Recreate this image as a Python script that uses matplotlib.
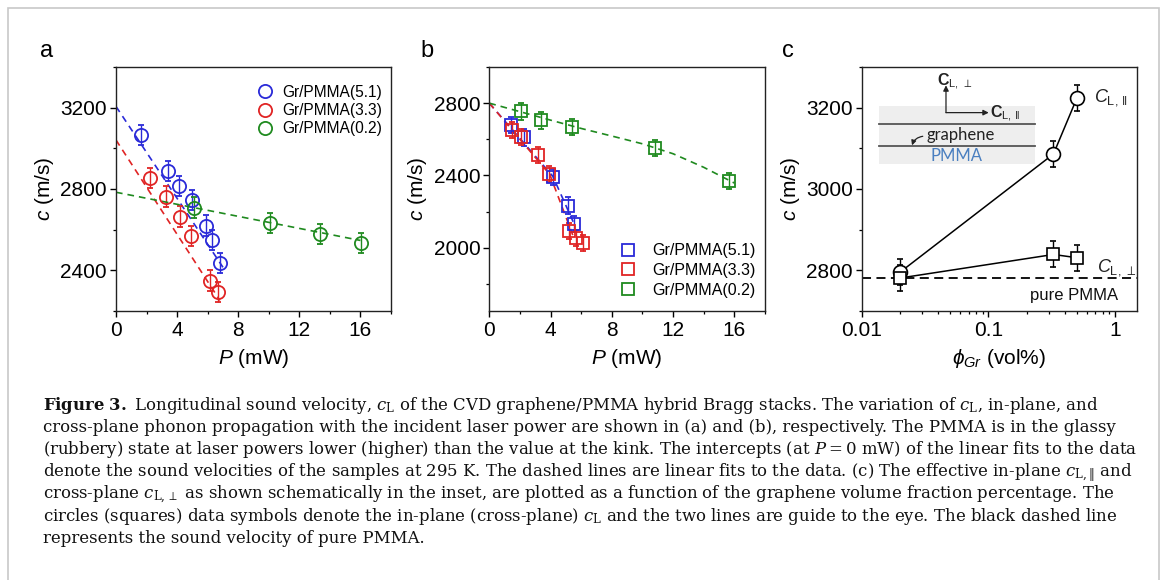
import matplotlib
matplotlib.use('Agg')
import matplotlib.pyplot as plt
from matplotlib.lines import Line2D
from matplotlib.patches import Rectangle
import matplotlib.ticker as mt

# ---------------- data ----------------
# panel a (in-plane, circles)
a_blue_x = [1.66, 3.41, 4.14, 4.99, 5.86, 6.28, 6.82]
a_blue_y = [3065, 2890, 2814, 2745, 2620, 2549, 2435]
a_red_x = [2.21, 3.28, 4.17, 4.88, 6.15, 6.67]
a_red_y = [2854, 2763, 2664, 2569, 2350, 2292]
a_green_x = [5.12, 10.07, 13.38, 16.05]
a_green_y = [2709, 2632, 2580, 2536]
a_err = 50
a_blue_fit_x, a_blue_fit_y = [0, 7.0], [3206, 2415]
a_red_fit_x, a_red_fit_y = [0, 6.8], [3041, 2252]
a_green_fit_x, a_green_fit_y = [0, 16.0], [2784, 2547]

# panel b (cross-plane, squares)
b_blue_x = [1.42, 2.29, 4.15, 5.12, 5.54]
b_blue_y = [2680, 2610, 2393, 2233, 2130]
b_red_x = [1.45, 2.06, 3.20, 3.93, 5.23, 5.67, 6.10]
b_red_y = [2651, 2614, 2512, 2407, 2091, 2052, 2025]
b_green_x = [2.07, 3.39, 5.43, 10.80, 15.65]
b_green_y = [2754, 2704, 2670, 2551, 2368]
b_err = 45
b_blue_fit_x, b_blue_fit_y = [0, 4.15, 5.6], [2800, 2395, 2120]
b_red_fit_x, b_red_fit_y = [0, 3.95, 5.45], [2800, 2405, 2070]
b_green_fit_x = [0, 2, 4, 6, 8, 10, 12, 14, 16]
b_green_fit_y = [2800, 2753, 2706, 2660, 2618, 2575, 2520, 2445, 2358]

labels = ['Gr/PMMA(5.1)', 'Gr/PMMA(3.3)', 'Gr/PMMA(0.2)']
colors = ['#2a2ad8', '#e02424', '#1f8a1f']

# panel c
c_phi = [0.02, 0.326, 0.5]
c_par = [2795, 3086, 3224]
c_perp = [2781, 2839, 2831]
c_err = 32
c_pure = 2780

caption_lines = [
    r"$\mathbf{Figure\ 3.}$ Longitudinal sound velocity, $c_{\rm L}$ of the CVD graphene/PMMA hybrid Bragg stacks. The variation of $c_{\rm L}$, in-plane, and",
    r"cross-plane phonon propagation with the incident laser power are shown in (a) and (b), respectively. The PMMA is in the glassy",
    r"(rubbery) state at laser powers lower (higher) than the value at the kink. The intercepts (at $P = 0$ mW) of the linear fits to the data",
    r"denote the sound velocities of the samples at 295 K. The dashed lines are linear fits to the data. (c) The effective in-plane $c_{\rm L,\|}$ and",
    r"cross-plane $c_{\rm L,\perp}$ as shown schematically in the inset, are plotted as a function of the graphene volume fraction percentage. The",
    r"circles (squares) data symbols denote the in-plane (cross-plane) $c_{\rm L}$ and the two lines are guide to the eye. The black dashed line",
    r"represents the sound velocity of pure PMMA.",
]

# ---------------- style ----------------
plt.rcParams.update({
    'font.family': ['Liberation Sans', 'DejaVu Sans'],
    'mathtext.fontset': 'custom',
    'mathtext.rm': 'Liberation Sans',
    'mathtext.it': 'Liberation Sans:italic',
    'mathtext.bf': 'Liberation Sans:bold',
    'axes.linewidth': 1.0,
    'axes.edgecolor': '#222222',
    'xtick.direction': 'out', 'ytick.direction': 'out',
    'xtick.major.size': 4, 'ytick.major.size': 4,
    'xtick.minor.size': 2.5, 'ytick.minor.size': 2.5,
    'xtick.major.width': 1.0, 'ytick.major.width': 1.0,
    'xtick.minor.width': 0.9, 'ytick.minor.width': 0.9,
    'xtick.labelsize': 15, 'ytick.labelsize': 15,
    'xtick.major.pad': 3, 'ytick.major.pad': 2.5,
})

W, H = 1168, 580
fig = plt.figure(figsize=(W / 100, H / 100), dpi=100)


def add_ax(left, right, top=67, bottom=311):
    return fig.add_axes([left / W, 1 - bottom / H, (right - left) / W, (bottom - top) / H])


dash = (0, (4, 3))

# ---------------- panel a ----------------
axA = add_ax(116, 391)
for xs, ys, fx, fy, c in [(a_blue_x, a_blue_y, a_blue_fit_x, a_blue_fit_y, colors[0]),
                           (a_red_x, a_red_y, a_red_fit_x, a_red_fit_y, colors[1]),
                           (a_green_x, a_green_y, a_green_fit_x, a_green_fit_y, colors[2])]:
    axA.plot(fx, fy, linestyle=dash, color=c, lw=1.2)
    axA.errorbar(xs, ys, yerr=a_err, fmt='o', mfc='none', mec=c, ecolor=c, ms=9.5, mew=1.3,
                 capsize=2.5, elinewidth=1.0, capthick=1.0)
axA.set_xlim(0, 18)
axA.set_ylim(2200, 3400)
axA.xaxis.set_major_locator(mt.MultipleLocator(4))
axA.xaxis.set_minor_locator(mt.MultipleLocator(2))
axA.yaxis.set_major_locator(mt.MultipleLocator(400))
axA.yaxis.set_minor_locator(mt.MultipleLocator(200))
axA.set_xlabel('$P$ (mW)', fontsize=15, labelpad=5)
axA.set_ylabel('$c$ (m/s)', fontsize=15, labelpad=3)
hA = [Line2D([], [], marker='o', ls='none', mfc='none', mec=c, ms=9.5, mew=1.3) for c in colors]
axA.legend(hA, labels, loc='upper right', bbox_to_anchor=(1.0, 0.965), frameon=False, fontsize=11.2,
           handletextpad=0.5, labelspacing=0.2, borderaxespad=0.2, handlelength=1.2)

# ---------------- panel b ----------------
axB = add_ax(489.3, 765)
for xs, ys, fx, fy, c in [(b_blue_x, b_blue_y, b_blue_fit_x, b_blue_fit_y, colors[0]),
                           (b_red_x, b_red_y, b_red_fit_x, b_red_fit_y, colors[1]),
                           (b_green_x, b_green_y, b_green_fit_x, b_green_fit_y, colors[2])]:
    axB.plot(fx, fy, linestyle=dash, color=c, lw=1.2)
for xs, ys, c in [(b_blue_x, b_blue_y, colors[0]), (b_red_x, b_red_y, colors[1]),
                  (b_green_x, b_green_y, colors[2])]:
    axB.errorbar(xs, ys, yerr=b_err, fmt='s', mfc='none', mec=c, ecolor=c, ms=9, mew=1.3,
                 capsize=2.5, elinewidth=1.0, capthick=1.0)
axB.set_xlim(0, 18)
axB.set_ylim(1650, 3000)
axB.xaxis.set_major_locator(mt.MultipleLocator(4))
axB.xaxis.set_minor_locator(mt.MultipleLocator(2))
axB.yaxis.set_major_locator(mt.MultipleLocator(400))
axB.yaxis.set_minor_locator(mt.MultipleLocator(200))
axB.set_xlabel('$P$ (mW)', fontsize=15, labelpad=5)
axB.set_ylabel('$c$ (m/s)', fontsize=15, labelpad=3)
hB = [Line2D([], [], marker='s', ls='none', mfc='none', mec=c, ms=9, mew=1.3) for c in colors]
axB.legend(hB, labels, loc='lower right', bbox_to_anchor=(1.0, 0.015), frameon=False, fontsize=11.5,
           handletextpad=0.9, labelspacing=0.3, borderaxespad=0.2, handlelength=1.2)

# ---------------- panel c ----------------
axC = add_ax(861.7, 1136.7)
axC.set_xscale('log')
axC.axhline(c_pure, color='black', lw=1.3, linestyle=(0, (5, 3)))
axC.errorbar(c_phi, c_par, yerr=c_err, fmt='-o', color='black', mfc='white', mec='black', ms=10,
             mew=1.2, lw=1.1, capsize=2.5, elinewidth=1.0, capthick=1.0)
axC.errorbar(c_phi, c_perp, yerr=c_err, fmt='-s', color='black', mfc='white', mec='black', ms=9,
             mew=1.2, lw=1.1, capsize=2.5, elinewidth=1.0, capthick=1.0)
axC.set_xlim(0.01, 1.48)
axC.set_ylim(2700, 3300)
axC.xaxis.set_major_locator(mt.FixedLocator([0.01, 0.1, 1]))
axC.xaxis.set_major_formatter(mt.FixedFormatter(['0.01', '0.1', '1']))
axC.xaxis.set_minor_locator(mt.LogLocator(base=10, subs=range(2, 10)))
axC.xaxis.set_minor_formatter(mt.NullFormatter())
axC.yaxis.set_major_locator(mt.MultipleLocator(200))
axC.yaxis.set_minor_locator(mt.MultipleLocator(100))
axC.set_xlabel(r'$\phi_{Gr}$ (vol%)', fontsize=15, labelpad=5)
axC.set_ylabel('$c$ (m/s)', fontsize=15, labelpad=3)
axC.text(0.68, c_par[-1], r'$C_{\rm L,\,\|}$', fontsize=13, va='center', ha='left', color='#222222')
axC.text(0.72, c_perp[-1] - 25, r'$C_{\rm L,\,\perp}$', fontsize=13, va='center', ha='left', color='#222222')
axC.text(0.47, 2739, 'pure PMMA', fontsize=12, ha='center', va='center', color='#111111')

# inset schematic (axes fraction)
T = axC.transAxes
axC.add_patch(Rectangle((0.062, 0.602), 0.568, 0.238, transform=T, facecolor='#eeeeee',
                        edgecolor='none', zorder=1))
axC.plot([0.062, 0.630], [0.765, 0.765], transform=T, color='#555555', lw=1.3, zorder=2)
axC.plot([0.062, 0.630], [0.676, 0.676], transform=T, color='#555555', lw=1.3, zorder=2)
axC.text(0.36, 0.722, 'graphene', transform=T, fontsize=12, family='Lato', ha='center', va='center',
         color='#222222', zorder=3)
axC.text(0.345, 0.635, 'PMMA', transform=T, fontsize=12, family='Lato', ha='center', va='center',
         color='#4a7fc0', zorder=3)
axC.annotate('', xy=(0.183, 0.679), xytext=(0.222, 0.716), xycoords=T, textcoords=T,
             arrowprops=dict(arrowstyle='-|>', color='#222222', lw=0.9, mutation_scale=7,
                             connectionstyle='arc3,rad=0.3', shrinkA=0, shrinkB=0), zorder=3)
axC.annotate('', xy=(0.3065, 0.925), xytext=(0.3065, 0.813), xycoords=T, textcoords=T,
             arrowprops=dict(arrowstyle='-|>', color='#222222', lw=0.9, mutation_scale=8,
                             shrinkA=0, shrinkB=0), zorder=3)
axC.annotate('', xy=(0.462, 0.813), xytext=(0.3065, 0.813), xycoords=T, textcoords=T,
             arrowprops=dict(arrowstyle='-|>', color='#222222', lw=0.9, mutation_scale=8,
                             shrinkA=0, shrinkB=0), zorder=3)
axC.text(0.275, 0.94, r'$\mathbf{C}_{\rm L,\,\perp}$', transform=T, fontsize=11.5, ha='left',
         va='center', color='#222222', zorder=3)
axC.text(0.468, 0.81, r'$\mathbf{C}_{\rm L,\,\|}$', transform=T, fontsize=11.5, ha='left',
         va='center', color='#222222', zorder=3)

# panel letters
for x, s in [(40, 'a'), (420, 'b'), (782, 'c')]:
    fig.text(x / W, 1 - 57 / H, s, fontsize=17, ha='left', va='baseline')

# caption
for i, line in enumerate(caption_lines):
    fig.text(43 / W, 1 - (410 + 22.2 * i) / H, line, fontsize=11.9, family='DejaVu Serif',
             math_fontfamily='dejavuserif', ha='left', va='baseline', color='#111111')

# outer frame
fig.patches.append(Rectangle((7.5 / W, -0.05), (1159 - 7.5) / W, 1.05 - 7.5 / H,
                             transform=fig.transFigure, fill=False, edgecolor='#c8c8c8', lw=1.2))

fig.savefig('out.png', dpi=100)
